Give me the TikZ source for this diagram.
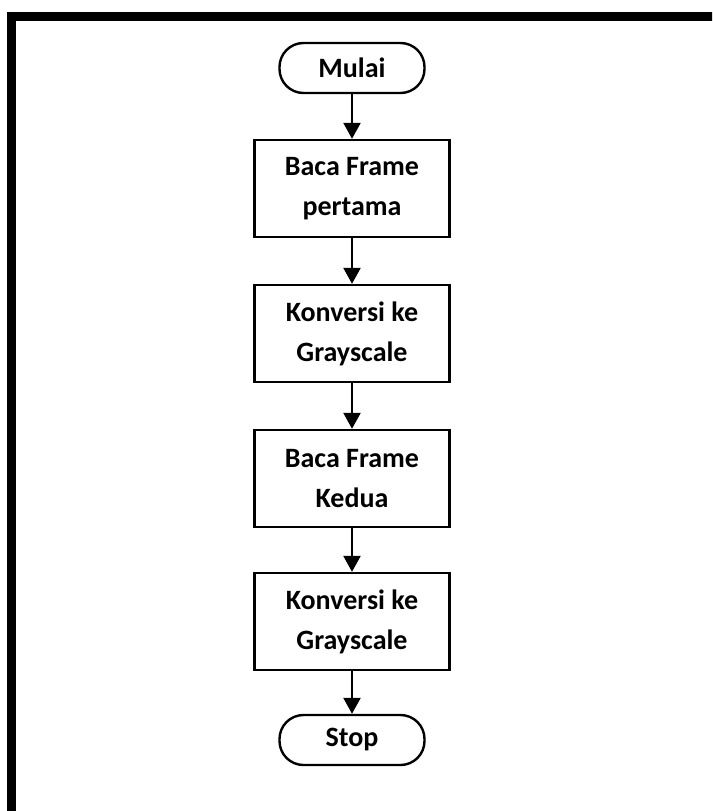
\documentclass[tikz,border=0pt]{standalone}
\usepackage{fontspec}
\setmainfont{Carlito}
\usepackage{tikz}
\usetikzlibrary{arrows.meta}
\usetikzlibrary{positioning}

\tikzset{
  proses/.style={rectangle, draw=black, line width=2.4pt, minimum width=195pt,
    minimum height=97pt, align=center, font=\fontsize{28}{40}\selectfont\bfseries},
  terminal/.style={rectangle, rounded corners=24pt, draw=black, line width=2.4pt,
    minimum width=145pt, minimum height=50pt, font=\fontsize{28}{40}\selectfont\bfseries},
  alir/.style={-{Triangle[length=16pt,width=17pt]}, line width=2.4pt, draw=black}
}

\begin{document}
\begin{tikzpicture}[x=1pt, y=-1pt]
 \useasboundingbox (0,0) rectangle (712,811);
 % frame round the chart
 \begin{scope}
  \clip (0,0) rectangle (712,811);
  \draw [line width=9pt] (11.5,830) -- (11.5,16.5) -- (730,16.5);
 \end{scope}

 \node [terminal] (mulai) at (352, 68) {Mulai};
 \node [proses] (baca1) at (352, 188.5) {Baca Frame\\pertama};
 \node [proses] (gray1) at (352, 333.5) {Konversi ke\\Grayscale};
 \node [proses] (baca2) at (352, 478.5) {Baca Frame\\Kedua};
 \node [proses] (gray2) at (352, 621.5) {Konversi ke\\Grayscale};
 \node [terminal] (stop) at (352, 740) {Stop};

 \draw [alir] (mulai) to (baca1);
 \draw [alir] (baca1) to (gray1);
 \draw [alir] (gray1) to (baca2);
 \draw [alir] (baca2) to (gray2);
 \draw [alir] (gray2) to (stop);
\end{tikzpicture}
\end{document}
